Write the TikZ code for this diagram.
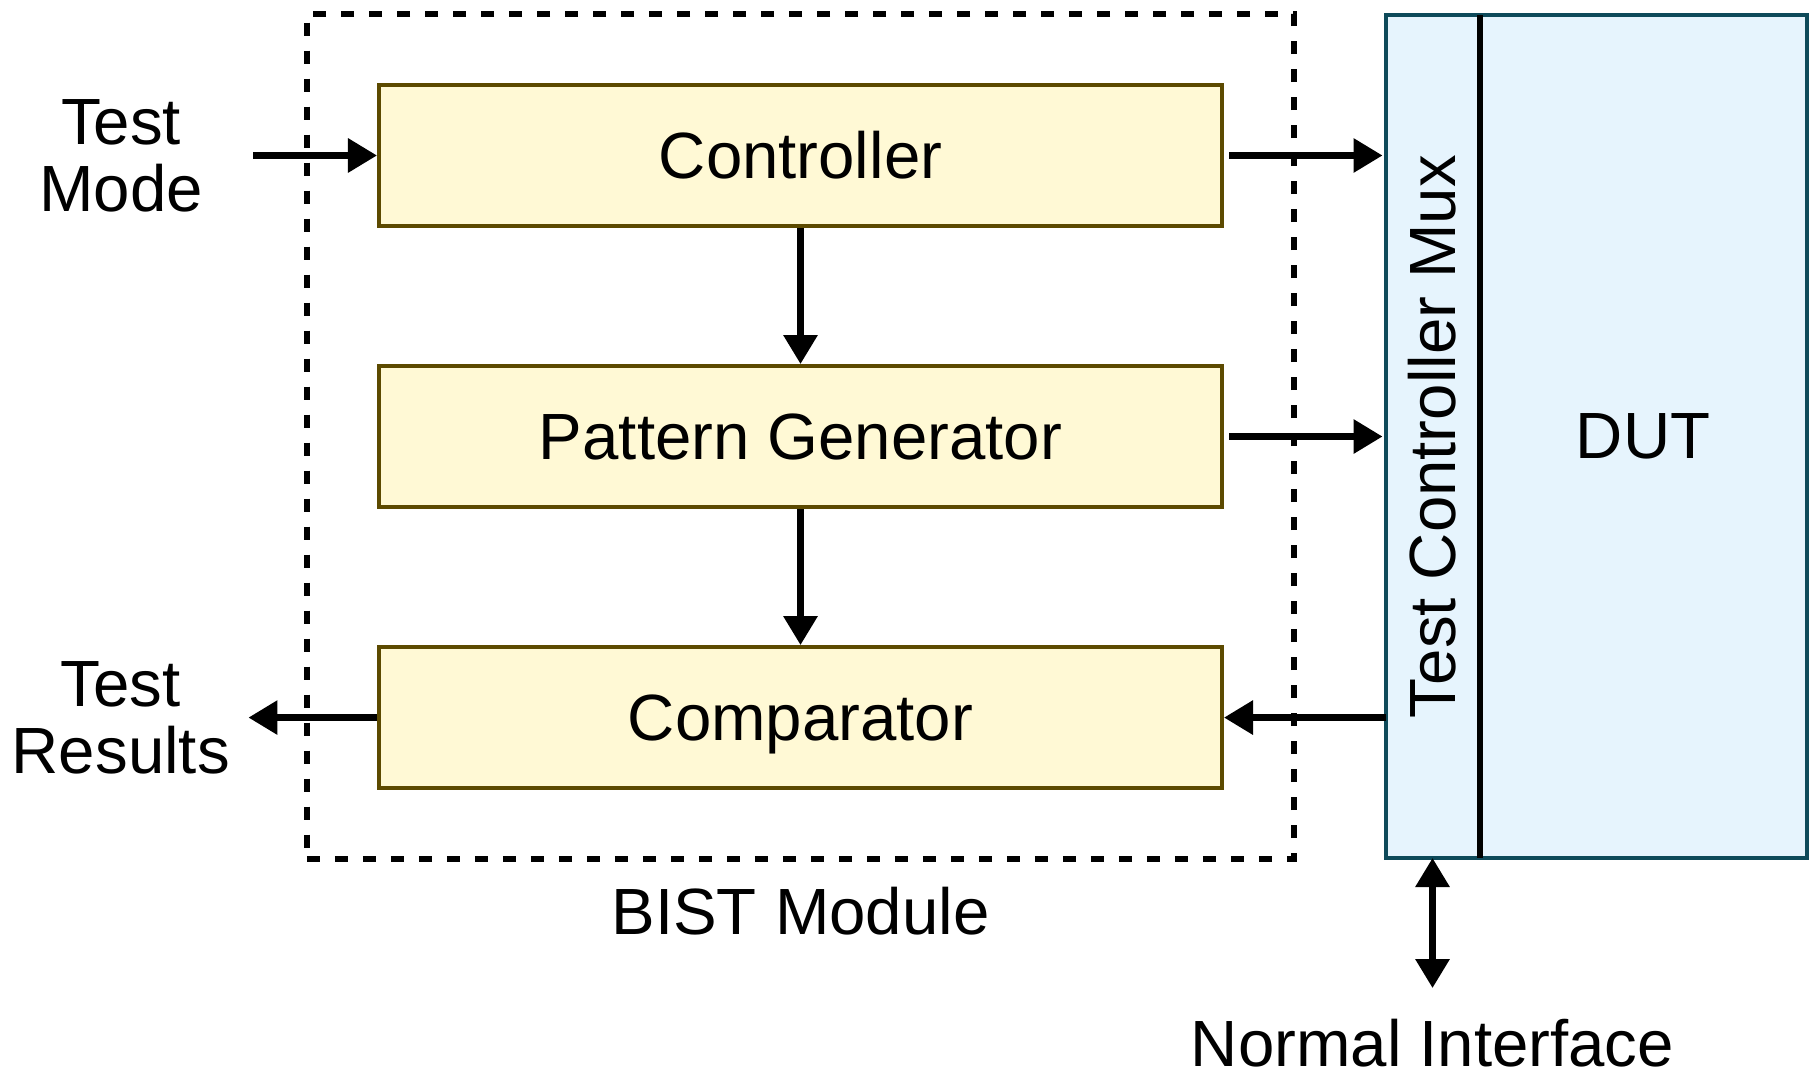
\documentclass[tikz,border=0pt]{standalone}
\usepackage{fontspec}
\setmainfont{Liberation Sans}
\usetikzlibrary{positioning, arrows.meta, fit}
\definecolor{UnitFill}{HTML}{FFF9D5}
\definecolor{UnitEdge}{HTML}{5C4A00}
\definecolor{MuxFill}{HTML}{E6F4FD}
\definecolor{MuxEdge}{HTML}{0E4A5A}
\tikzset{
  txt/.style       = {inner sep=0pt, align=center, font=\fontsize{18.6pt}{19pt}\selectfont},
  unit/.style      = {rectangle, draw=UnitEdge, line width=1.15pt, fill=UnitFill, txt,
                      minimum width=8.43cm, minimum height=1.41cm,
                      text height=13.3pt, text depth=0pt},
  bistframe/.style = {rectangle, draw=black, line width=1.7pt,
                      dash pattern=on 0.135cm off 0.145cm,
                      inner xsep=0.7cm, inner ysep=0.69cm},
  muxbox/.style    = {rectangle, draw=MuxEdge, line width=1.15pt, fill=MuxFill,
                      outer sep=0pt, minimum height=8.43cm, txt},
  flow/.style      = {-{Triangle[length=0.29cm, width=0.33cm]}, line width=1.8pt},
  flowboth/.style  = {{Triangle[length=0.29cm, width=0.33cm]}-{Triangle[length=0.29cm, width=0.33cm]},
                      line width=1.8pt},
  divider/.style   = {line width=1.7pt, draw=black},
}
\begin{document}
\begin{tikzpicture}[node distance=1.36cm]
  \useasboundingbox (0,0) rectangle (18.10,-10.81);

  \node[unit]                  (ctrl)   at (8.005,-1.555) {Controller};
  \node[unit, below=of ctrl]   (patgen) {Pattern Generator};
  \node[unit, below=of patgen] (comp)   {Comparator};
  \node[bistframe, fit=(ctrl)(patgen)(comp)] (bist) {};
  \node[txt, below=0.24cm of bist] (bistlbl) {BIST Module};

  \node[muxbox, minimum width=0.94cm, right=0.885cm of bist] (mux) {};
  \node[muxbox, minimum width=3.27cm, right=0cm of mux]      (dut) {DUT};
  \draw[divider] (mux.north east) -- (mux.south east);
  \node[txt, rotate=90] (muxlbl) at (mux) {Test Controller Mux};

  \node[txt, left=1.735cm of ctrl] (tmode)  {Test\\Mode};
  \node[txt, left=1.465cm of comp] (tres)   {Test\\Results};
  \node[txt, below=1.60cm of mux]  (niface) {Normal Interface};

  \draw[flow, shorten <=0.5cm] (tmode) -- (ctrl);
  \draw[flow] (ctrl) -- (patgen);
  \draw[flow] (patgen) -- (comp);
  \draw[flow, shorten <=0.05cm, shorten >=0.03cm] (ctrl.east) -- (ctrl.east -| mux.west);
  \draw[flow, shorten <=0.05cm, shorten >=0.03cm] (patgen.east) -- (patgen.east -| mux.west);
  \draw[flow] (comp.east -| mux.west) -- (comp.east);
  \draw[flow, shorten >=0.18cm] (comp) -- (tres);
  \draw[flowboth, shorten >=0.30cm] (mux.south) -- (niface.north);
\end{tikzpicture}
\end{document}
